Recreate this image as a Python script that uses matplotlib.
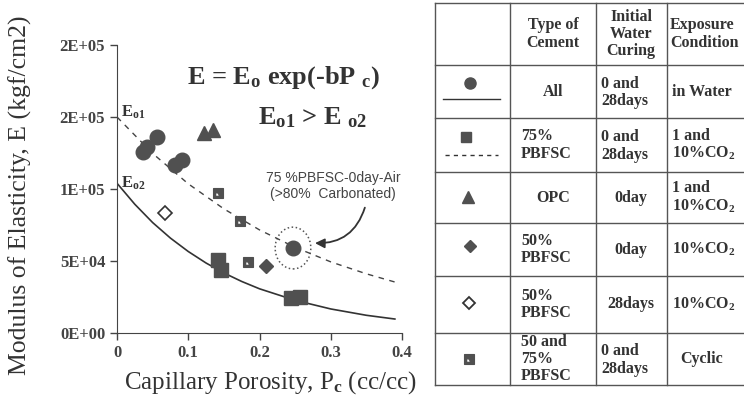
import matplotlib
matplotlib.use("Agg")
import matplotlib.pyplot as plt
from matplotlib.path import Path
from matplotlib.patches import Ellipse
from matplotlib.ticker import FuncFormatter

plt.rcParams["font.family"] = ["Liberation Serif", "DejaVu Serif"]
plt.rcParams["mathtext.fontset"] = "custom"
plt.rcParams["mathtext.rm"] = "Liberation Serif:bold"
plt.rcParams["mathtext.bf"] = "Liberation Serif:bold"
plt.rcParams["mathtext.it"] = "Liberation Serif:italic:bold"

# values
circle_x = [0.036, 0.042, 0.056, 0.081, 0.091, 0.247]
circle_E = [125700, 129000, 136000, 116700, 120000, 59000]
square_x = [0.142, 0.146, 0.244, 0.257]
square_E = [50700, 43800, 24300, 25000]
triangle_x = [0.122, 0.135]
triangle_E = [138700, 141000]
diamond_x = [0.209]
diamond_E = [46500]
open_diamond_x = [0.067]
open_diamond_E = [83300]
cyclic_x = [0.142, 0.173, 0.184]
cyclic_E = [97000, 77800, 49300]

# fitted curves
fit1_x = [0, 0.05, 0.10, 0.15, 0.20, 0.25, 0.30, 0.35, 0.39]
fit1_E = [150000, 124700, 103600, 86200, 71600, 59500, 49400, 41100, 35400]
fit2_x = [0, 0.025, 0.05, 0.075, 0.10, 0.125, 0.15, 0.175, 0.20, 0.25, 0.30, 0.35, 0.39]
fit2_E = [104000, 89400, 76700, 65900, 56600, 48600, 41700, 35800, 30700, 22700, 16700, 12300, 9700]

x_ticks = [0, 0.1, 0.2, 0.3, 0.4]
x_tick_labels = ["0", "0.1", "0.2", "0.3", "0.4"]
y_ticks = [0, 50000, 100000, 150000, 200000]

headers = ["Type of\nCement", "Initial\nWater\nCuring", "Exposure\nCondition"]
cement_types = ["All", "75%\nPBFSC", "OPC", "50%\nPBFSC", "50%\nPBFSC", "50 and\n75%\nPBFSC"]
curing = ["0 and\n28days", "0 and\n28days", "0day", "0day", "28days", "0 and\n28days"]
exposure = ["in Water", "1 and\n10%CO$_{2}$", "1 and\n10%CO$_{2}$", "10%CO$_{2}$", "10%CO$_{2}$", "Cyclic"]

W, H = 744, 401
ink = "#333333"
mk = "#505050"

# square with a light notch in the lower-left, for the cyclic series
outer = [(-1, -1), (1, -1), (1, 1), (-1, 1), (-1, -1)]
inner = [(-0.6, -0.6), (0.2, -0.6), (0.1, -0.2), (-0.2, 0.2), (-0.6, 0.1), (-0.6, -0.6)]
inner = inner[::-1]
verts = outer + inner
codes = [Path.MOVETO] + [Path.LINETO] * 3 + [Path.CLOSEPOLY] + [Path.MOVETO] + [Path.LINETO] * 4 + [Path.CLOSEPOLY]
cyclic_marker = Path(verts, codes)

fig = plt.figure(figsize=(W / 100, H / 100), dpi=100)

# table on the right, drawn in pixel coordinates
tax = fig.add_axes([0, 0, 1, 1])
tax.set_xlim(0, W)
tax.set_ylim(H, 0)
tax.axis("off")

row_edges = [3, 65, 118, 172, 223, 276, 333, 385]
col_edges = [435, 510, 596, 667]
for y in row_edges:
    tax.plot([col_edges[0], W + 5], [y, y], color="#555555", lw=1)
for x in col_edges:
    tax.plot([x, x], [row_edges[0], row_edges[-1]], color="#555555", lw=1)

tfont = dict(fontsize=11.5, fontweight="bold", color=ink, va="center", linespacing=1.12)
hy = (row_edges[0] + row_edges[1]) / 2
tax.text(553, hy, headers[0], ha="center", **tfont)
tax.text(631, hy, headers[1], ha="center", **tfont)
tax.text(670, hy, headers[2], ha="left", **tfont)

for i in range(6):
    cy = (row_edges[i + 1] + row_edges[i + 2]) / 2
    if "\n" in cement_types[i]:
        tax.text(521, cy, cement_types[i], ha="left", **tfont)
    else:
        tax.text(553, cy, cement_types[i], ha="center", **tfont)
    if "\n" in curing[i]:
        tax.text(601, cy + 1, curing[i], ha="left", **tfont)
    else:
        tax.text(631, cy, curing[i], ha="center", **tfont)
    tax.text(672 if exposure[i] != "Cyclic" else 680, cy, exposure[i], ha="left", **tfont)

# legend symbols inside the table
tax.plot([470], [83], "o", ms=8, color=mk)
tax.plot([443, 500], [99, 99], "-", color=ink, lw=1)
tax.plot([466], [137], "s", ms=7, color=mk)
tax.plot([445, 498], [155, 155], "--", color=ink, lw=1, dashes=(3, 3))
tax.plot([468], [197], "^", ms=8, color=mk)
tax.plot([470], [246], "D", ms=6, color=mk)
tax.plot([469], [303], "D", ms=6, mfc="white", mec=ink, mew=1.3)
tax.plot([469], [359], marker=cyclic_marker, ms=7, color=mk, ls="none")

# main plot
ax = fig.add_axes([117 / W, 1 - 333 / H, 285 / W, 288 / H])
ax.patch.set_visible(False)
ax.plot(fit1_x, fit1_E, "--", color="#444444", lw=1, dashes=(4, 4))
ax.plot(fit2_x, fit2_E, "-", color="#333333", lw=1.2)
ax.plot(circle_x, circle_E, "o", ms=10.5, color=mk)
ax.plot(square_x, square_E, "s", ms=10, color=mk)
ax.plot(triangle_x, triangle_E, "^", ms=10.5, color=mk)
ax.plot(diamond_x, diamond_E, "D", ms=7, color=mk)
ax.plot(open_diamond_x, open_diamond_E, "D", ms=7, mfc="white", mec=ink, mew=1.2)
ax.plot(cyclic_x, cyclic_E, marker=cyclic_marker, ms=7, color=mk, ls="none")

ax.add_patch(Ellipse((circle_x[-1], circle_E[-1]), 0.05, 29000, fill=False,
                     ls=":", lw=1.1, color="#555555"))
ax.annotate("", xy=(0.274, 62500), xytext=(0.349, 88900),
            arrowprops=dict(arrowstyle="-|>", color=ink, lw=1.3, mutation_scale=14,
                            connectionstyle="arc3,rad=-0.4"))

ax.set_xlim(0, 0.4)
ax.set_ylim(0, 200000)
ax.set_xticks(x_ticks)
ax.set_xticklabels(x_tick_labels)
ax.set_yticks(y_ticks)
ax.yaxis.set_major_formatter(FuncFormatter(lambda v, p: f"{v:.0E}"))
for s in ["top", "right"]:
    ax.spines[s].set_visible(False)
for s in ["left", "bottom"]:
    ax.spines[s].set_color("#444444")
ax.tick_params(direction="out", length=5, width=1, color="#444444",
               labelsize=12, labelcolor="#444444")
for lab in ax.get_xticklabels() + ax.get_yticklabels():
    lab.set_fontweight("bold")

# texts on the plot
fig.text(284 / W, 1 - 78 / H, "E = E$_{\\mathbf{o}}$ exp(-bP $_{\\mathbf{c}}$)",
         fontsize=19, fontweight="bold", color=ink, ha="center", va="center")
fig.text(313 / W, 1 - 118 / H, "E$_{\\mathbf{o1}}$ > E $_{\\mathbf{o2}}$",
         fontsize=19, fontweight="bold", color=ink, ha="center", va="center")
fig.text(121 / W, 1 - 112 / H, "E$_{\\mathbf{o1}}$", fontsize=12, fontweight="bold",
         color=ink, ha="left", va="center")
fig.text(121 / W, 1 - 183 / H, "E$_{\\mathbf{o2}}$", fontsize=12, fontweight="bold",
         color=ink, ha="left", va="center")
fig.text(333 / W, 1 - 186 / H, "75 %PBFSC-0day-Air\n(>80%  Carbonated)",
         family="Liberation Sans", fontsize=10, color="#444444", ha="center",
         va="center", linespacing=1.25)

fig.text(20 / W, 1 - 195 / H, "Modulus of Elasticity, E (kgf/cm2)", rotation=90,
         fontsize=18.5, color=ink, ha="center", va="center")
fig.text(270 / W, 1 - 383 / H, "Capillary Porosity, P$_{\\mathbf{c}}$ (cc/cc)",
         fontsize=18, color=ink, ha="center", va="center")

fig.savefig("out.png", dpi=100)
